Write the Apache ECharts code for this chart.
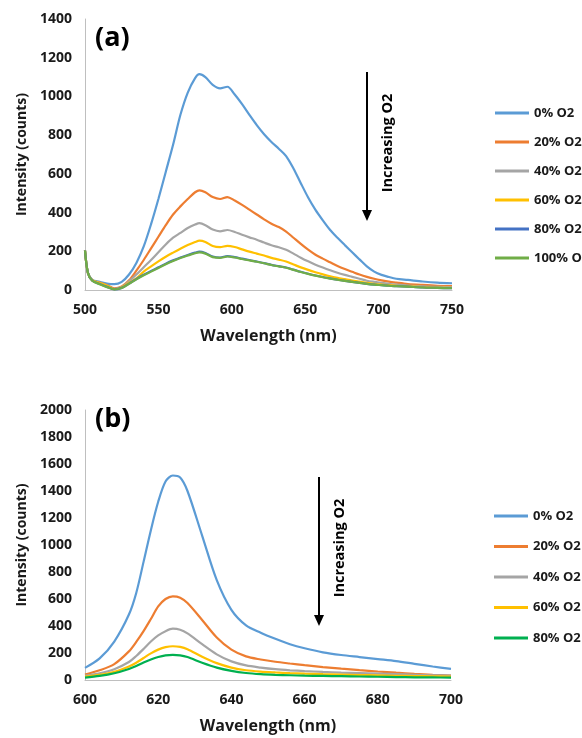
<!DOCTYPE html>
<html>
<head>
<meta charset="utf-8">
<script src="https://cdn.jsdelivr.net/npm/echarts@6/dist/echarts.min.js"></script>
<style>
html,body{margin:0;padding:0;background:#fff;}
#c{width:582px;height:738px;}
</style>
</head>
<body>
<div id="c"></div>
<script>
// ---- Panel (a) ----
const wlA = [500,502,505,510,515,520,525,530,535,540,545,550,555,560,565,570,575,578,582,587,592,597,602,607,612,617,622,627,632,637,642,647,652,657,662,667,672,677,682,687,692,697,702,707,712,720,730,740,750];
const a0   = [204,90,52,42,33,30,42,80,140,225,340,470,610,750,905,1020,1095,1115,1100,1060,1042,1050,1010,960,905,852,805,765,730,692,628,552,478,414,360,310,270,232,195,158,122,95,78,67,58,52,44,38,35];
const a20  = [204,88,50,38,25,8,18,50,100,155,215,275,335,390,432,470,505,515,505,480,470,480,462,440,415,390,365,342,325,302,270,238,208,182,162,143,124,108,94,80,68,58,50,43,38,31,26,22,20];
const a40  = [204,88,50,36,22,5,15,45,80,118,155,195,235,270,295,320,338,345,335,312,303,310,300,285,272,260,245,231,221,208,188,167,148,131,116,102,89,78,68,58,48,42,37,32,28,23,19,16,15];
const a60  = [204,88,50,36,22,4,14,38,60,95,122,148,172,193,213,232,248,255,248,227,221,228,222,210,198,188,178,166,157,147,132,117,104,92,81,71,63,56,49,43,37,32,28,25,22,19,15,12,11];
const a80  = [204,88,48,31,16,3,11,33,57,79,98,117,136,153,168,181,193,198,191,173,168,175,170,162,155,147,139,130,123,116,105,94,84,75,67,60,53,47,42,37,32,28,25,22,20,17,13,11,9];
const a100 = [204,88,48,30,15,3,10,32,55,76,95,114,133,150,165,178,190,194,188,170,166,173,168,160,153,146,138,129,122,115,104,93,83,74,66,59,53,47,42,37,32,28,25,22,20,17,13,11,9];
const namesA = ['0% O2','20% O2','40% O2','60% O2','80% O2','100% O2'];
const valuesA = [a0,a20,a40,a60,a80,a100];
const colorsA = ['#5B9BD5','#ED7D31','#A5A5A5','#FFC000','#4472C4','#70AD47'];

// ---- Panel (b) ----
const wlB = [600,604,608,612,614,616,618,620,622,624,626,628,632,636,640,644,648,652,656,660,665,670,675,680,685,690,695,700];
const b0  = [90,160,285,485,645,875,1110,1320,1470,1515,1500,1400,1070,740,520,405,350,305,265,235,205,185,170,155,140,120,100,82];
const b20 = [40,72,118,212,282,362,452,545,600,620,610,570,445,315,225,175,152,135,122,110,96,84,73,63,54,46,39,33];
const b40 = [33,50,80,133,178,230,285,330,362,380,372,345,265,190,138,108,92,80,72,66,60,55,51,47,43,39,35,32];
const b60 = [25,38,60,100,128,163,197,225,243,250,245,228,172,125,92,72,62,56,51,47,43,40,37,34,31,29,27,25];
const b80 = [18,30,50,82,104,130,152,170,182,186,183,170,128,92,68,52,43,38,35,32,30,28,26,24,22,20,19,18];
const namesB = ['0% O2','20% O2','40% O2','60% O2','80% O2'];
const valuesB = [b0,b20,b40,b60,b80];
const colorsB = ['#5B9BD5','#ED7D31','#A5A5A5','#FFC000','#00B050'];

const xTicksA = {min:500,max:750,interval:50};
const yTicksA = {min:0,max:1400,interval:200};
const xTicksB = {min:600,max:700,interval:20};
const yTicksB = {min:0,max:2000,interval:200};

const FONT = 'Open Sans';
const txt = '#1a1a1a';
const labelStyle = {color:txt,fontFamily:FONT,fontWeight:'bold',fontSize:14,margin:13,formatter:v=>String(v)};
function xAx(idx,t){return {type:'value',gridIndex:idx,min:t.min,max:t.max,interval:t.interval,
  axisLine:{show:true,lineStyle:{color:'#BFBFBF',width:1}},axisTick:{show:false},splitLine:{show:false},
  axisLabel:labelStyle,name:'Wavelength (nm)',nameLocation:'middle',nameGap:38,
  nameTextStyle:{color:txt,fontFamily:FONT,fontWeight:'bold',fontSize:16}};}
function yAx(idx,t){return {type:'value',gridIndex:idx,min:t.min,max:t.max,interval:t.interval,
  axisLine:{show:true,lineStyle:{color:'#BFBFBF',width:1}},axisTick:{show:false},splitLine:{show:false},
  axisLabel:labelStyle,name:'Intensity (counts)',nameLocation:'middle',nameGap:54,
  nameTextStyle:{color:txt,fontFamily:FONT,fontWeight:'bold',fontSize:14}};}

const series = [];
valuesA.forEach((v,i)=>{
  series.push({type:'line',name:namesA[i],xAxisIndex:0,yAxisIndex:0,showSymbol:false,smooth:0.3,
    data:wlA.map((w,j)=>[w,v[j]]),lineStyle:{width:2.2,color:colorsA[i]},itemStyle:{color:colorsA[i]}});
});
valuesB.forEach((v,i)=>{
  series.push({type:'line',name:namesB[i],xAxisIndex:1,yAxisIndex:1,showSymbol:false,smooth:0.3,
    data:wlB.map((w,j)=>[w,v[j]]),lineStyle:{width:2.2,color:colorsB[i]},itemStyle:{color:colorsB[i]}});
});

const legendText = {color:txt,fontFamily:FONT,fontWeight:'bold',fontSize:13,lineHeight:14};
function arrow(x,y1,y2){
  return [
    {type:'line',shape:{x1:x,y1:y1,x2:x,y2:y2-10},style:{stroke:'#000',lineWidth:2}},
    {type:'polygon',shape:{points:[[x-5,y2-11],[x+5,y2-11],[x,y2]]},style:{fill:'#000'}}
  ];
}
const chart = echarts.init(document.getElementById('c'),null,{renderer:'canvas'});
chart.setOption({
  animation:false,
  backgroundColor:'#fff',
  grid:[
    {left:85,top:19,width:367,height:271},
    {left:85,top:410,width:366,height:270}
  ],
  xAxis:[xAx(0,xTicksA),xAx(1,xTicksB)],
  yAxis:[yAx(0,yTicksA),yAx(1,yTicksB)],
  legend:[
    {orient:'vertical',left:490,top:101,itemWidth:34,itemHeight:3,icon:'rect',itemGap:15,itemStyle:{borderWidth:0},textStyle:legendText,
     data:namesA.map((n,i)=>({name:n,itemStyle:{color:colorsA[i]}}))},
    {orient:'vertical',left:489,top:504,itemWidth:34,itemHeight:3,icon:'rect',itemGap:16.5,itemStyle:{borderWidth:0},textStyle:legendText,
     data:namesB.map((n,i)=>({name:n,itemStyle:{color:colorsB[i]}}))}
  ],
  series:series,
  graphic:[
    {type:'text',left:95,top:25,style:{text:'(a)',fill:'#000',font:'bold 27px "'+FONT+'"'}},
    {type:'text',left:95,top:406,style:{text:'(b)',fill:'#000',font:'bold 27px "'+FONT+'"'}},
    ...arrow(367,72,221),
    ...arrow(319,477,626),
    {type:'text',x:388,y:143,rotation:Math.PI/2,style:{text:'Increasing O2',fill:'#000',font:'bold 14.5px "'+FONT+'"',align:'center',verticalAlign:'middle'}},
    {type:'text',x:340,y:548,rotation:Math.PI/2,style:{text:'Increasing O2',fill:'#000',font:'bold 14.5px "'+FONT+'"',align:'center',verticalAlign:'middle'}}
  ]
});
</script>
</body>
</html>
